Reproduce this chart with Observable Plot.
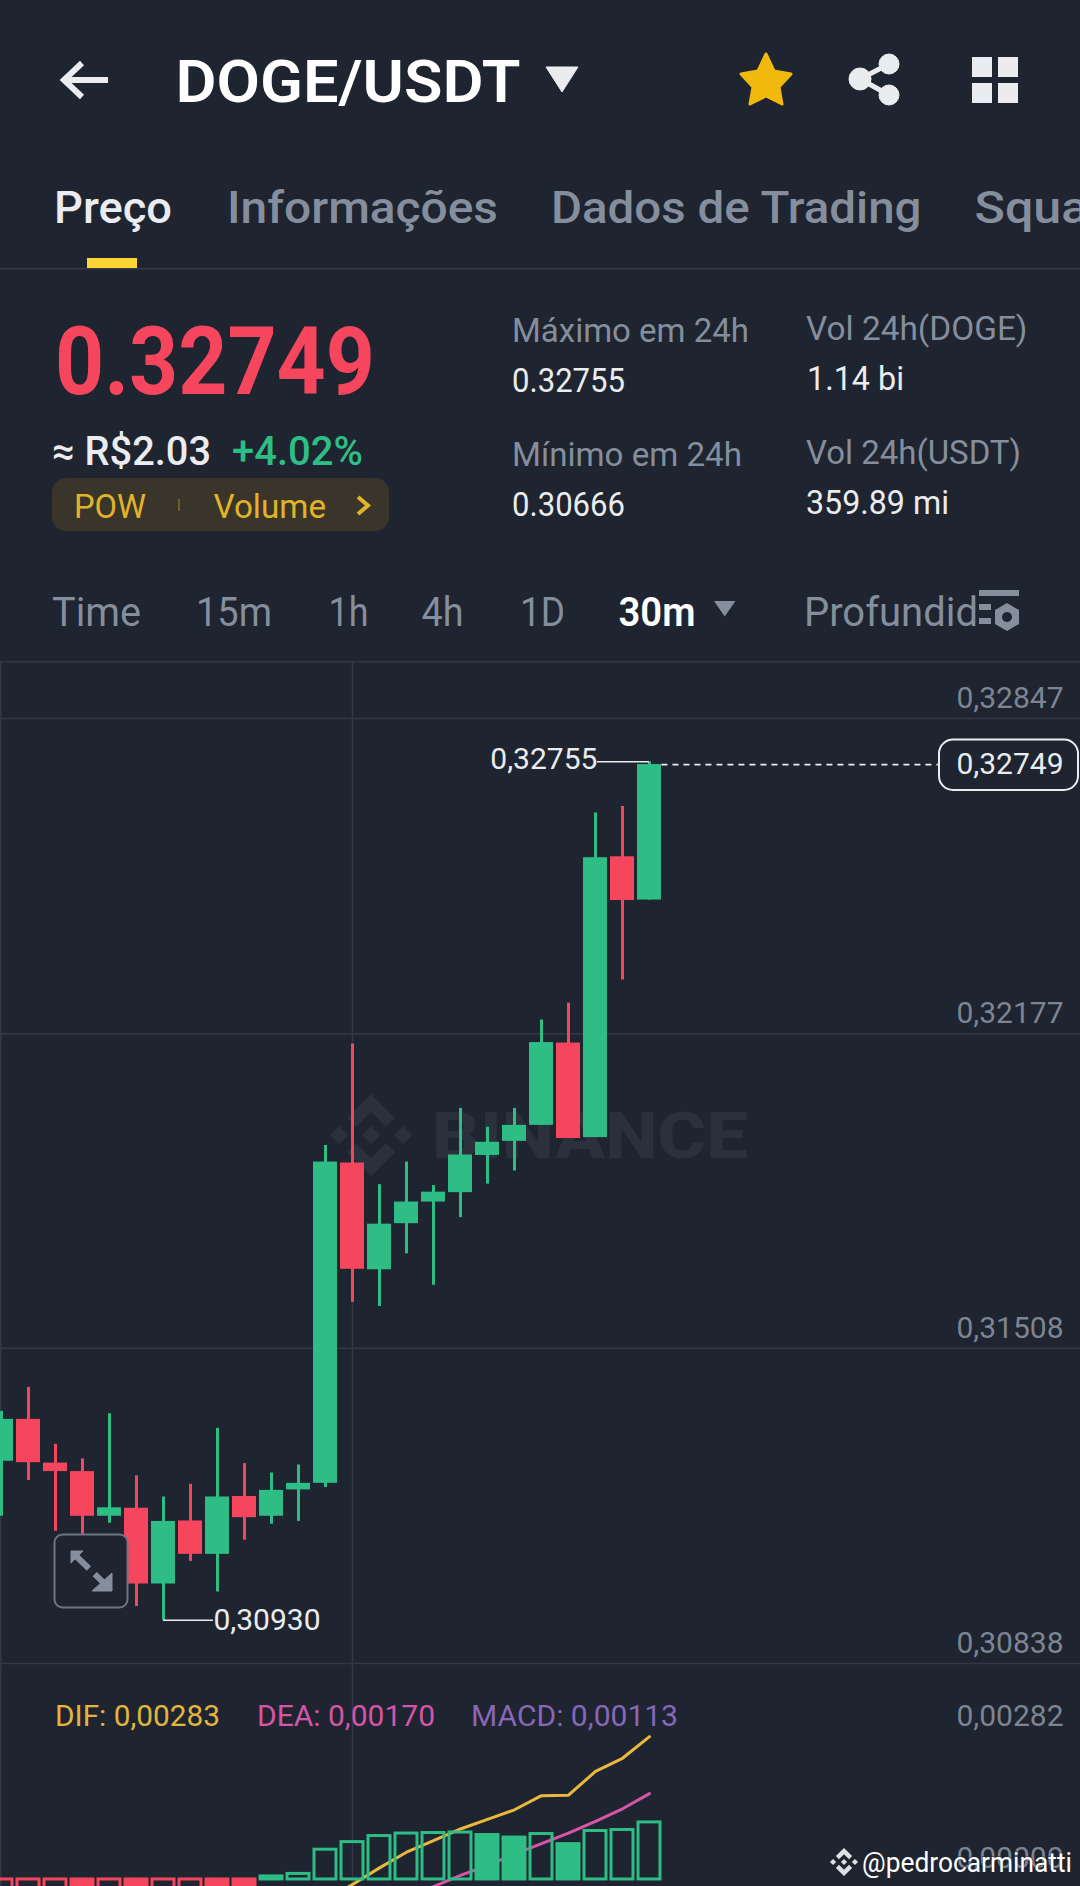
<!DOCTYPE html>
<html lang="pt">
<head>
<meta charset="utf-8">
<title>DOGE/USDT</title>
<script src="https://cdn.jsdelivr.net/npm/d3@7"></script>
<script src="https://cdn.jsdelivr.net/npm/@observablehq/plot@0.6"></script>
<style>
html,body{margin:0;padding:0;background:#1e2430;}
#page{position:relative;width:1080px;height:1886px;overflow:hidden;background:#1e2430;font-family:Roboto,sans-serif;}
#page svg{position:absolute;left:0;display:block;}
#page svg text{font-family:Roboto,sans-serif;}
</style>
</head>
<body>
<div id="page"></div>
<script>
// ---- price data (30m candles) ----
const opens  = [0.31268,0.31357,0.31264,0.31246,0.31151,0.31168,0.31007,0.31141,0.31070,0.31193,0.31151,0.31207,0.31221,0.31902,0.31675,0.31773,0.31819,0.31839,0.31918,0.31948,0.31982,0.32157,0.31956,0.32553,0.32461];
const closes = [0.31357,0.31265,0.31246,0.31151,0.31169,0.31007,0.31140,0.31070,0.31192,0.31148,0.31206,0.31221,0.31904,0.31676,0.31772,0.31819,0.31840,0.31919,0.31946,0.31982,0.32158,0.31954,0.32551,0.32460,0.32749];
const highs  = [0.31374,0.31425,0.31304,0.31273,0.31369,0.31237,0.31192,0.31219,0.31338,0.31263,0.31243,0.31260,0.31939,0.32155,0.31856,0.31904,0.31854,0.32018,0.31978,0.32018,0.32206,0.32242,0.32646,0.32660,0.32755];
const lows   = [0.31151,0.31227,0.31119,0.31107,0.31136,0.30959,0.30930,0.31055,0.30990,0.31100,0.31134,0.31140,0.31212,0.31606,0.31597,0.31709,0.31642,0.31786,0.31857,0.31885,0.31982,0.31954,0.31956,0.32291,0.32461];
const priceTicks = [0.32847,0.32177,0.31508,0.30838];
const priceDomain = [0.30838,0.32966];
const lastPrice = 0.32749, maxPrice = 0.32755, minPrice = 0.30930;

// ---- MACD data ----
const hist = [-0.00060,-0.00056,-0.00052,-0.00058,-0.00054,-0.00060,-0.00052,-0.00044,-0.00046,-0.00048,0.00006,0.00011,0.00059,0.00074,0.00086,0.00091,0.00092,0.00093,0.00088,0.00083,0.00090,0.00070,0.00096,0.00098,0.00113];
const difIdx = [12,13,14,15,16,17,18,19,20,21,22,23,24];
const difVal = [-0.00040,-0.00010,0.00023,0.00054,0.00077,0.00100,0.00119,0.00138,0.00166,0.00167,0.00214,0.00240,0.00283];
const deaIdx = [15,16,17,18,19,20,21,22,23,24];
const deaVal = [-0.00035,-0.00014,0.00008,0.00028,0.00050,0.00071,0.00092,0.00115,0.00140,0.00170];
const macdTicks = [0.00282,0];
const macdDomain = [-0.000139,0.004277];

// ---- index markers ----
const crosshairIndex = 13, lowIndex = 6, highIndex = 24;
const lowLabelIndex = 7.85, highLabelIndex = 22.07, tagIndex = 34.7;
const xDomain = [-1/27,1079/27];

// ---- colours ----
const bg="#1e2430", green="#2ebd85", red="#f6465d", grid="#323945", tickC="#7d8592", white="#eaecef", grey="#848e9c";

const comma = d => d3.format(".5f")(d).replace(".",",");
const candles = opens.map((o,i)=>({i,open:o,close:closes[i],high:highs[i],low:lows[i],color:closes[i]>=o?green:red}));
const bars = hist.map((v,i)=>({i,v,color:v>=0?green:red,fill:(i>0&&v<hist[i-1])?(v>=0?green:red):"none"}));

// ---- text helper for the app chrome ----
function T(s,x,y,size,fill,w,weight=400,anchor="start",extra=""){
  return `<text x="${x}" y="${y}" font-size="${size}" font-weight="${weight}" fill="${fill}" text-anchor="${anchor}"${w?` textLength="${w}" lengthAdjust="spacingAndGlyphs"`:""} ${extra}>${s}</text>`;
}
const logo=(cx,cy,r,fill)=>`<g transform="translate(${cx},${cy}) scale(${r})" fill="${fill}">
<path d="M0,-.22L.22,0L0,.22L-.22,0Z"/><path d="M-.78,-.22L-.56,0L-.78,.22L-1,0Z"/><path d="M.78,-.22L1,0L.78,.22L.56,0Z"/>
<path d="M0,-1L.58,-.42L.36,-.2L0,-.56L-.36,-.2L-.58,-.42Z"/><path d="M0,1L.58,.42L.36,.2L0,.56L-.36,.2L-.58,.42Z"/></g>`;

const back = `
<rect width="1080" height="1886" fill="${bg}"/>
<path d="M108,80H66M82,63L64,80L82,97" fill="none" stroke="${white}" stroke-width="6"/>
${T("DOGE/USDT",175.5,102,59,"#fff",345,600)}
<path d="M546,67H578L562,92Z" fill="${white}" stroke="${white}" stroke-width="1" stroke-linejoin="round"/>
<path d="M766,54L774,71L791,74L779,87L782,104L766,96L750,104L753,87L741,74L758,71Z" fill="#f0b90b" stroke="#f0b90b" stroke-width="3" stroke-linejoin="round"/>
<g fill="${white}" stroke="${white}"><circle cx="889" cy="64" r="10"/><circle cx="889" cy="95" r="10"/><circle cx="860" cy="79" r="11"/><path d="M889,64L860,79L889,95" fill="none" stroke-width="5"/></g>
<g fill="${white}"><rect x="972" y="57" width="20" height="20"/><rect x="998" y="57" width="20" height="20"/><rect x="972" y="83" width="20" height="20"/><rect x="998" y="83" width="20" height="20"/></g>
${T("Preço",54,223,44,white,118,500)}
${T("Informações",227,223,44,grey,271,500)}
${T("Dados de Trading",551,223,44,grey,370.5,500)}
${T("Square",974.5,223,44,grey,158,500)}
<rect x="87" y="258" width="50" height="10" fill="#fcd535"/>
<rect x="0" y="268" width="1080" height="1.5" fill="${grid}"/>
${T("0.32749",55,393.5,94,red,320,700)}
${T("≈ R$2.03",52,465,40,white,159,500)}
${T("+4.02%",232,465,40,green,131,500)}
<rect x="52" y="478" width="337" height="53" rx="14" fill="#39352a"/>
${T("POW",74,517.5,33,"#e2b328",72)}
<rect x="178" y="499" width="2" height="12" fill="#6a5d25"/>
${T("Volume",213.5,517.5,33,"#e2b328",112.5)}
<path d="M358,497L368,505.5L358,514" fill="none" stroke="#e2b328" stroke-width="4"/>
${T("Máximo em 24h",512,342,33,grey,237)}
${T("0.32755",512,391.5,33,white,113)}
${T("Mínimo em 24h",512,466,33,grey,230)}
${T("0.30666",512,516,33,white,113)}
${T("Vol 24h(DOGE)",806,340,33,grey,221.5)}
${T("1.14 bi",807,389.5,33,white,97)}
${T("Vol 24h(USDT)",806,464,33,grey,215)}
${T("359.89 mi",806,513.5,33,white,143)}
${T("Time",52,626,40,grey,89)}
${T("15m",196,626,40,grey,76)}
${T("1h",328.5,626,40,grey,40)}
${T("4h",421.5,626,40,grey,42)}
${T("1D",520,626,40,grey,45)}
${T("30m",618.5,626,40,"#fff",77,600)}
<path d="M714,601H735.5L724.7,616.5Z" fill="${grey}"/>
${T("Profundid",804,626,40,grey,174)}
<g fill="${grey}"><rect x="979" y="590" width="40" height="6"/><rect x="979" y="604" width="12" height="6"/><rect x="979" y="618" width="12" height="6"/>
<path fill-rule="evenodd" d="M1007,603L1019,610V624L1007,631L995,624V610ZM1007,612a5,5 0 1,0 .01,0Z"/></g>
<rect x="0" y="661" width="1080" height="1.5" fill="${grid}"/>
<rect x="0" y="662" width="1.5" height="1224" fill="${grid}"/>
<text x="432" y="1158" font-size="65" font-weight="800" fill="#2b313c" textLength="316" lengthAdjust="spacingAndGlyphs">BINANCE</text>
${logo(371,1135,41,"#2b313c")}
<rect x="939" y="739.5" width="139" height="50.5" rx="14" fill="${bg}" stroke="${white}" stroke-width="2"/>
`;

const front = `
<rect x="54.5" y="1534.5" width="73" height="73" rx="8" fill="${bg}" stroke="#6c7484" stroke-width="2"/>
<g fill="#848e9c" stroke="#848e9c"><path d="M71,1551H83L71,1563Z"/><path d="M112,1591H92L112,1573Z"/></g>
<path d="M76,1556L107,1586" stroke="#848e9c" stroke-width="6" stroke-dasharray="18 8" fill="none"/>
${T("DIF: 0,00283",55,1726,30,"#e4b53c",165)}
${T("DEA: 0,00170",257,1726,30,"#d655a8",178)}
${T("MACD: 0,00113",471,1726,30,"#8867b8",207)}
${logo(844,1862,14,"#dfe1e5")}
<text x="862" y="1872" font-size="28" fill="#fff" textLength="210" lengthAdjust="spacingAndGlyphs" style="paint-order:stroke" stroke="${bg}" stroke-opacity=".5" stroke-width="2">@pedrocarminatti</text>
`;

function layer(html,top,h,z){
  const ns="http://www.w3.org/2000/svg";
  const s=document.createElementNS(ns,"svg");
  s.setAttribute("width",1080);s.setAttribute("height",h);s.setAttribute("viewBox",`0 0 1080 ${h}`);
  s.style.top=top+"px";s.style.zIndex=z;
  s.innerHTML=html;
  return s;
}

const page=document.getElementById("page");
page.appendChild(layer(back,0,1886,1));

// ---- price chart ----
const price = Plot.plot({
  width:1080,height:1001,margin:0,
  style:{background:"transparent",fontFamily:"Roboto, sans-serif"},
  x:{type:"linear",domain:xDomain,range:[0,1080],axis:null},
  y:{type:"linear",domain:priceDomain,range:[1001,0],axis:null},
  color:{type:"identity"},
  marks:[
    Plot.ruleY(priceTicks,{stroke:grid,strokeWidth:1.5}),
    Plot.ruleX([crosshairIndex],{stroke:grid,strokeWidth:1.5}),
    Plot.axisY(priceTicks,{anchor:"right",tickSize:0,tickPadding:0,textAnchor:"end",dx:-17,dy:-20,tickFormat:comma,fill:tickC,fontSize:30,label:null,stroke:"none"}),
    Plot.ruleX(candles,{x:"i",y1:"low",y2:"high",stroke:"color",strokeWidth:3}),
    Plot.rect(candles,{x1:d=>d.i-0.444,x2:d=>d.i+0.444,y1:"open",y2:"close",fill:"color"}),
    Plot.ruleY([lastPrice],{x1:highIndex+0.46,x2:tagIndex,stroke:white,strokeWidth:1.6,strokeDasharray:"6 5"}),
    Plot.ruleY([maxPrice],{x1:highLabelIndex,x2:highIndex,stroke:white,strokeWidth:1.5}),
    Plot.text([maxPrice],{x:highLabelIndex,y:d=>d,dy:-2,text:comma,textAnchor:"end",fill:white,fontSize:30}),
    Plot.ruleY([minPrice],{x1:lowIndex,x2:lowLabelIndex,stroke:white,strokeWidth:1.5}),
    Plot.text([minPrice],{x:lowLabelIndex,y:d=>d,text:comma,textAnchor:"start",fill:white,fontSize:30}),
    Plot.text([lastPrice],{frameAnchor:"right",y:d=>d,dx:-17,text:comma,textAnchor:"end",fill:white,fontSize:30})
  ]
});
price.style.top="662px";price.style.zIndex=2;
page.appendChild(price);

// ---- MACD panel ----
const macd = Plot.plot({
  width:1080,height:223,margin:0,
  style:{background:"transparent",fontFamily:"Roboto, sans-serif"},
  x:{type:"linear",domain:xDomain,range:[0,1080],axis:null},
  y:{type:"linear",domain:macdDomain,range:[223,0],axis:null},
  color:{type:"identity"},
  marks:[
    Plot.ruleY([macdDomain[1]],{stroke:grid,strokeWidth:1.5}),
    Plot.ruleX([crosshairIndex],{stroke:grid,strokeWidth:1.5}),
    Plot.axisY(macdTicks,{anchor:"right",tickSize:0,tickPadding:0,textAnchor:"end",dx:-17,dy:-21,tickFormat:comma,fill:tickC,fontSize:30,label:null,stroke:"none"}),
    Plot.line(difIdx,{x:d=>d,y:(d,i)=>difVal[i],stroke:"#ebb73d",strokeWidth:3}),
    Plot.line(deaIdx,{x:d=>d,y:(d,i)=>deaVal[i],stroke:"#d655a8",strokeWidth:3}),
    Plot.rect(bars,{x1:d=>d.i-0.407,x2:d=>d.i+0.407,y1:0,y2:"v",fill:"fill",stroke:"color",strokeWidth:3})
  ]
});
macd.style.top="1663px";macd.style.zIndex=2;
page.appendChild(macd);

page.appendChild(layer(front,0,1886,3));
</script>
</body>
</html>
